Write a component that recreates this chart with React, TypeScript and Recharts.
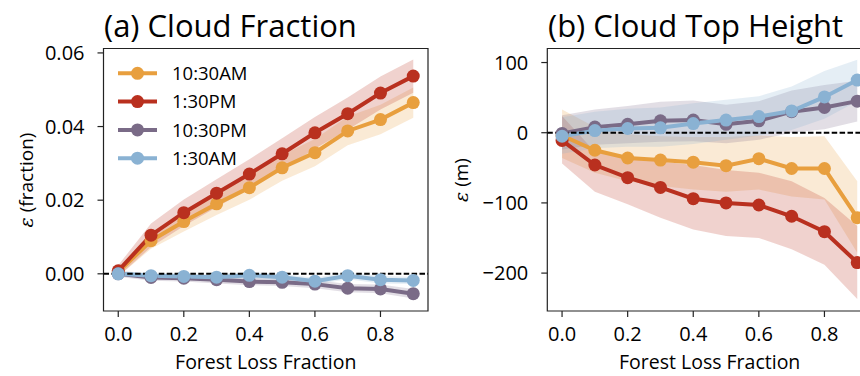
import { ComposedChart, Line, Area, XAxis, YAxis, ReferenceLine, ReferenceArea } from "recharts";

const forestLoss = [0, 0.1, 0.2, 0.3, 0.4, 0.5, 0.6, 0.7, 0.8, 0.9];

// (a) cloud fraction, mean and half-width of the shaded band
const cfAm1030 = [0.0005, 0.009, 0.0142, 0.019, 0.0234, 0.0288, 0.0329, 0.0388, 0.0419, 0.0465];
const cfPm130 = [0.0008, 0.0105, 0.0166, 0.0219, 0.0271, 0.0326, 0.0383, 0.0435, 0.0491, 0.0537];
const cfPm1030 = [0.0, -0.001, -0.0012, -0.0016, -0.0021, -0.0023, -0.0028, -0.0039, -0.0041, -0.0054];
const cfAm130 = [0.0, -0.0005, -0.0007, -0.0009, -0.0004, -0.0009, -0.002, -0.0005, -0.0016, -0.0018];
const cfAm1030Err = [0.0012, 0.0022, 0.0027, 0.003, 0.0033, 0.0035, 0.0037, 0.0039, 0.004, 0.0041];
const cfPm130Err = [0.0015, 0.0032, 0.0036, 0.0038, 0.004, 0.0042, 0.0043, 0.0044, 0.0045, 0.0045];
const cfPm1030Err = [0.0008, 0.0009, 0.0009, 0.001, 0.001, 0.001, 0.0011, 0.0011, 0.0012, 0.0013];
const cfAm130Err = [0.0007, 0.0008, 0.0008, 0.0008, 0.0009, 0.0009, 0.0009, 0.001, 0.001, 0.001];

// (b) cloud top height (m), mean and band limits
const cthAm1030 = [-4, -25, -36, -39, -42, -47, -37, -51, -51, -121];
const cthPm130 = [-11, -46, -64, -78, -94, -100, -103, -119, -141, -185];
const cthPm1030 = [-1, 8, 12, 17, 18, 12, 17, 30, 36, 45];
const cthAm130 = [-5, 3, 6, 7, 13, 18, 23, 31, 51, 75];
const cthAm1030Lo = [-36, -57, -69, -76, -81, -84, -81, -91, -95, -171];
const cthAm1030Hi = [33, 8, -2, -5, -6, -6, -4, -6, -5, -69];
const cthPm130Lo = [-44, -84, -102, -121, -138, -147, -150, -166, -188, -237];
const cthPm130Hi = [24, -27, -34, -41, -46, -53, -57, -69, -93, -133];
const cthPm1030Lo = [-24, -17, -15, -13, -12, -15, -10, 0, 5, 16];
const cthPm1030Hi = [25, 33, 38, 44, 46, 40, 45, 60, 68, 74];
const cthAm130Lo = [-30, -22, -20, -20, -16, -10, -4, 4, 20, 45];
const cthAm130Hi = [22, 30, 34, 36, 42, 47, 52, 66, 88, 104];

const xTicks = [0, 0.2, 0.4, 0.6, 0.8];
const cfTicks = [0, 0.02, 0.04, 0.06];
const cthTicks = [-200, -100, 0, 100];

const series = [
  { key: "am1030", name: "10:30AM", color: "#E89F3E" },
  { key: "pm130", name: "1:30PM", color: "#B9301F" },
  { key: "pm1030", name: "10:30PM", color: "#7A6B87" },
  { key: "am130", name: "1:30AM", color: "#8AB2D3" },
];

const FONT = "'Open Sans', Lato, sans-serif";
const X_DOMAIN: [number, number] = [-0.045, 0.945];
const CF_DOMAIN: [number, number] = [-0.0101, 0.0612];
const CTH_DOMAIN: [number, number] = [-254, 120];

const cfData = forestLoss.map((x, i) => ({
  x,
  am1030: cfAm1030[i],
  pm130: cfPm130[i],
  pm1030: cfPm1030[i],
  am130: cfAm130[i],
  am1030Band: [cfAm1030[i] - cfAm1030Err[i], cfAm1030[i] + cfAm1030Err[i]],
  pm130Band: [cfPm130[i] - cfPm130Err[i], cfPm130[i] + cfPm130Err[i]],
  pm1030Band: [cfPm1030[i] - cfPm1030Err[i], cfPm1030[i] + cfPm1030Err[i]],
  am130Band: [cfAm130[i] - cfAm130Err[i], cfAm130[i] + cfAm130Err[i]],
}));

const cthData = forestLoss.map((x, i) => ({
  x,
  am1030: cthAm1030[i],
  pm130: cthPm130[i],
  pm1030: cthPm1030[i],
  am130: cthAm130[i],
  am1030Band: [cthAm1030Lo[i], cthAm1030Hi[i]],
  pm130Band: [cthPm130Lo[i], cthPm130Hi[i]],
  pm1030Band: [cthPm1030Lo[i], cthPm1030Hi[i]],
  am130Band: [cthAm130Lo[i], cthAm130Hi[i]],
}));

const tickStyle = { fontSize: 20, fill: "#000", fontFamily: FONT };
const minus = (v: number) => String(v).replace("-", "\u2212");

// rotated y label with an italic epsilon, centred on the plot height
const YLabel = ({ x, y, unit }: { x: number; y: number; unit: string }) => (
  <text x={x} y={y} transform={`rotate(-90 ${x} ${y})`} textAnchor="middle" fontSize={19} fontFamily={FONT} fill="#000">
    <tspan fontStyle="italic" fontFamily="'DejaVu Serif', serif">ε</tspan>
    <tspan> ({unit})</tspan>
  </text>
);

interface PanelProps {
  data: any[];
  yDomain: [number, number];
  yTicks: number[];
  yFormat: (v: number) => string;
  yAxisWidth: number;
  width: number;
}

const Panel = ({ data, yDomain, yTicks, yFormat, yAxisWidth, width }: PanelProps) => (
  <ComposedChart width={width} height={376} data={data} margin={{ top: 48.5, right: 12, bottom: 0, left: 0 }}>
    <XAxis
      dataKey="x"
      type="number"
      domain={X_DOMAIN}
      ticks={xTicks}
      allowDataOverflow
      tickFormatter={(v: number) => v.toFixed(1)}
      tick={tickStyle}
      tickSize={6}
      tickMargin={10}
      axisLine={false}
      tickLine={{ stroke: "#222", strokeWidth: 1.2 }}
      height={65}
      label={{ value: "Forest Loss Fraction", position: "insideBottom", offset: 7, style: { fontSize: 19.5, fill: "#000", fontFamily: FONT } }}
    />
    <YAxis
      type="number"
      domain={yDomain}
      ticks={yTicks}
      allowDataOverflow
      tickFormatter={yFormat}
      tick={tickStyle}
      tickSize={6}
      tickMargin={13}
      axisLine={false}
      tickLine={{ stroke: "#222", strokeWidth: 1.2 }}
      width={yAxisWidth}
    />
    {series.map((s) => (
      <Area
        key={s.key + "Band"}
        dataKey={s.key + "Band"}
        type="linear"
        stroke="none"
        fill={s.color}
        fillOpacity={0.22}
        isAnimationActive={false}
        activeDot={false}
        legendType="none"
      />
    ))}
    {series.map((s) => (
      <Line
        key={s.key}
        dataKey={s.key}
        name={s.name}
        type="linear"
        stroke={s.color}
        strokeWidth={4}
        dot={{ r: 6.5, fill: s.color, stroke: "none" }}
        activeDot={false}
        isAnimationActive={false}
      />
    ))}
    <ReferenceLine y={0} stroke="#000" strokeWidth={2} strokeDasharray="5.5 2.4" />
    <ReferenceArea x1={X_DOMAIN[0]} x2={X_DOMAIN[1]} y1={yDomain[0]} y2={yDomain[1]} fill="none" stroke="#222" strokeWidth={1.2} />
  </ComposedChart>
);

const App = () => (
  <div style={{ position: "absolute", left: 0, top: 0, width: 860, height: 376, overflow: "hidden", background: "#fff", fontFamily: FONT }}>
    <div style={{ position: "absolute", left: 0, top: 0 }}>
      <Panel data={cfData} yDomain={CF_DOMAIN} yTicks={cfTicks} yFormat={(v) => v.toFixed(2)} yAxisWidth={103.5} width={440} />
    </div>
    <div style={{ position: "absolute", left: 430, top: 0 }}>
      <Panel data={cthData} yDomain={CTH_DOMAIN} yTicks={cthTicks} yFormat={minus} yAxisWidth={117.3} width={454} />
    </div>
    <svg width={860} height={376} style={{ position: "absolute", left: 0, top: 0, pointerEvents: "none" }}>
      <text x={104} y={37} fontSize={31} fontFamily={FONT} fill="#000">(a) Cloud Fraction</text>
      <text x={548} y={37} fontSize={31} fontFamily={FONT} fill="#000">(b) Cloud Top Height</text>
      <YLabel x={33} y={180} unit="fraction" />
      <YLabel x={468} y={180} unit="m" />
      {series.map((s, i) => {
        const y = 73.3 + i * 28.3;
        return (
          <g key={s.key}>
            <line x1={118} x2={157} y1={y} y2={y} stroke={s.color} strokeWidth={4} />
            <circle cx={137.5} cy={y} r={6.5} fill={s.color} />
            <text x={172} y={y + 6.7} fontSize={18.5} fontFamily={FONT} fill="#000">{s.name}</text>
          </g>
        );
      })}
    </svg>
  </div>
);

export default App;
